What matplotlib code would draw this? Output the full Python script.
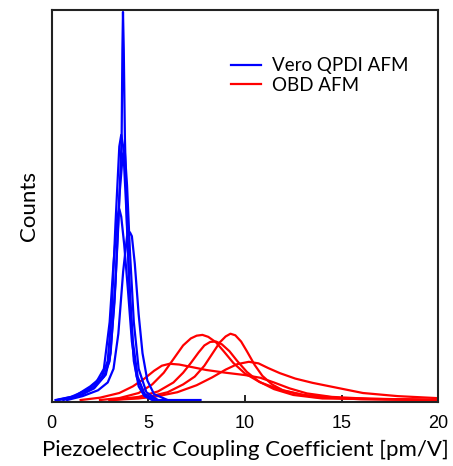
import matplotlib
matplotlib.use("Agg")
import matplotlib.pyplot as plt

# blue curves: Vero QPDI AFM (x in pm/V, normalised counts)
b1_x = [0.3, 1.0, 1.6, 2.2, 2.7, 3.0, 3.25, 3.45, 3.62, 3.66, 3.69, 3.73, 3.79, 3.9, 4.05, 4.25, 4.5, 4.8, 5.2, 7.7]
b1_y = [0.0, 0.005, 0.015, 0.035, 0.06, 0.1, 0.25, 0.45, 0.67, 0.9, 0.995, 0.9, 0.67, 0.45, 0.25, 0.1, 0.035, 0.01, 0.0, 0.0]
b2_x = [0.3, 1.2, 2.0, 2.6, 2.9, 3.1, 3.3, 3.5, 3.6, 3.7, 3.85, 4.0, 4.2, 4.45, 4.8, 5.3]
b2_y = [0.0, 0.01, 0.035, 0.06, 0.1, 0.22, 0.45, 0.65, 0.68, 0.65, 0.5, 0.32, 0.15, 0.06, 0.015, 0.0]
b3_x = [0.6, 1.4, 2.2, 2.8, 3.05, 3.3, 3.5, 3.68, 3.78, 3.9, 4.05, 4.25, 4.5, 4.9, 5.5]
b3_y = [0.0, 0.01, 0.03, 0.065, 0.12, 0.3, 0.52, 0.63, 0.64, 0.55, 0.38, 0.2, 0.08, 0.02, 0.0]
b4_x = [0.2, 1.0, 1.8, 2.3, 2.7, 3.0, 3.2, 3.4, 3.5, 3.6, 3.75, 3.95, 4.15, 4.4, 4.8, 5.4]
b4_y = [0.0, 0.008, 0.025, 0.045, 0.08, 0.2, 0.35, 0.47, 0.49, 0.47, 0.4, 0.28, 0.15, 0.06, 0.015, 0.0]
b5_x = [0.8, 1.6, 2.4, 2.9, 3.2, 3.45, 3.7, 3.9, 4.05, 4.15, 4.3, 4.5, 4.7, 4.95, 5.3, 6.0]
b5_y = [0.0, 0.01, 0.025, 0.045, 0.08, 0.17, 0.33, 0.42, 0.43, 0.42, 0.35, 0.22, 0.12, 0.05, 0.015, 0.0]

# red curves: OBD AFM
r1_x = [2.5, 3.5, 4.5, 5.2, 5.8, 6.3, 6.8, 7.2, 7.5, 7.8, 8.1, 8.5, 8.9, 9.4, 10.0, 10.8, 11.8, 13.0, 15.0, 20.0]
r1_y = [0.0, 0.005, 0.018, 0.04, 0.07, 0.105, 0.14, 0.158, 0.165, 0.167, 0.162, 0.148, 0.125, 0.095, 0.068, 0.045, 0.027, 0.013, 0.005, 0.0]
r2_x = [3.0, 5.0, 6.0, 6.8, 7.4, 7.9, 8.3, 8.7, 9.0, 9.25, 9.5, 9.8, 10.1, 10.5, 10.9, 11.4, 12.0, 13.5, 16.0, 20.0]
r2_y = [0.0, 0.008, 0.02, 0.04, 0.06, 0.088, 0.118, 0.148, 0.163, 0.17, 0.166, 0.15, 0.125, 0.09, 0.062, 0.04, 0.024, 0.008, 0.002, 0.0]
r3_x = [3.0, 4.5, 5.5, 6.3, 6.8, 7.2, 7.6, 7.9, 8.2, 8.5, 8.8, 9.2, 9.6, 10.1, 10.7, 11.5, 12.5, 14.0, 20.0]
r3_y = [0.0, 0.008, 0.022, 0.045, 0.07, 0.095, 0.122, 0.14, 0.149, 0.15, 0.143, 0.125, 0.1, 0.072, 0.048, 0.028, 0.013, 0.004, 0.0]
r4_x = [1.5, 2.5, 3.5, 4.2, 4.8, 5.3, 5.7, 6.1, 6.6, 7.2, 8.0, 9.0, 10.0, 10.8, 11.5, 12.3, 13.2, 14.5, 16.5, 20.0]
r4_y = [0.0, 0.006, 0.018, 0.035, 0.055, 0.075, 0.088, 0.093, 0.091, 0.085, 0.077, 0.07, 0.064, 0.057, 0.045, 0.03, 0.017, 0.008, 0.003, 0.0]
r5_x = [3.0, 4.5, 5.5, 6.5, 7.5, 8.3, 9.0, 9.6, 10.2, 10.7, 11.2, 11.8, 12.6, 13.5, 14.9, 16.1, 17.9, 19.9]
r5_y = [0.0, 0.004, 0.01, 0.02, 0.038, 0.058, 0.078, 0.092, 0.098, 0.094, 0.082, 0.069, 0.055, 0.044, 0.03, 0.018, 0.01, 0.005]

blue_curves = [(b1_x, b1_y), (b2_x, b2_y), (b3_x, b3_y), (b4_x, b4_y), (b5_x, b5_y)]
red_curves = [(r1_x, r1_y), (r2_x, r2_y), (r3_x, r3_y), (r4_x, r4_y), (r5_x, r5_y)]

fig = plt.figure(figsize=(4.53, 4.66), dpi=100)
ax = fig.add_axes([0.114, 0.1373, 0.8536, 0.8412])

for i, (x, y) in enumerate(red_curves):
    ax.plot(x, y, color="red", lw=1.6, label="OBD AFM" if i == 0 else None)
for i, (x, y) in enumerate(blue_curves):
    ax.plot(x, y, color="blue", lw=1.6, label="Vero QPDI AFM" if i == 0 else None)

ax.set_xlim(0, 20)
ax.set_ylim(-0.0051, 1.0)
ax.set_xticks([0, 5, 10, 15, 20])
ax.set_yticks([])
ax.tick_params(axis="x", direction="in", length=5, width=1.2, labelsize=13, pad=9)
for lab in ax.get_xticklabels():
    lab.set_fontfamily("Liberation Sans")
for s in ax.spines.values():
    s.set_linewidth(1.5)
    s.set_color("#222222")

ax.set_xlabel("Piezoelectric Coupling Coefficient [pm/V]", family="Lato", fontsize=16, labelpad=6)
ax.set_ylabel("Counts", family="Lato", fontsize=16, labelpad=9)

h, l = ax.get_legend_handles_labels()
ax.legend([h[1], h[0]], [l[1], l[0]], loc="upper right", bbox_to_anchor=(0.967, 0.922),
          frameon=False, prop={"family": "Lato", "size": 13.5}, handlelength=1.6,
          handletextpad=0.6, labelspacing=0.12)

fig.savefig("out.png", dpi=100)
